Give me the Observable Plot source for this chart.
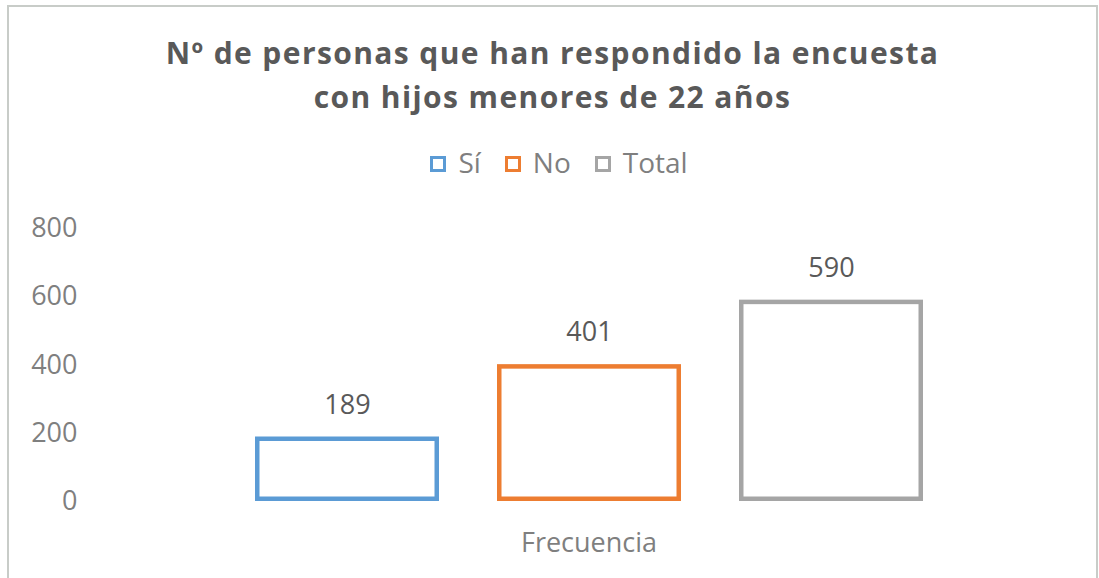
<!DOCTYPE html>
<html>
<head>
<meta charset="utf-8">
<script src="https://cdn.jsdelivr.net/npm/d3@7"></script>
<script src="https://cdn.jsdelivr.net/npm/@observablehq/plot@0.6"></script>
<style>
  html, body { margin: 0; padding: 0; background: #fff; }
  #wrap { position: relative; width: 1099px; height: 578px; overflow: hidden; font-family: "Open Sans", sans-serif; }
  #frame { position: absolute; left: 7px; top: 5px; width: 1087px; height: 640px; border: 2px solid #c8ccc8; }
  #title { position: absolute; left: 7px; width: 1091px; top: 31px; text-align: center; font-weight: 700; font-size: 30px; letter-spacing: 1.4px; line-height: 44px; color: #595959; }
  #legend { position: absolute; left: 0; width: 1099px; top: 147px; padding-left: 19px; box-sizing: border-box; display: flex; justify-content: center; align-items: center; font-size: 28px; line-height: 30px; color: #7f7f7f; }
  #legend .item { display: flex; align-items: center; margin: 0 12px; flex: none; }
  #legend .sw { display: block; flex: 0 0 16px; position: relative; top: 2px; width: 16px; height: 16px; box-sizing: border-box; border: 3.5px solid; margin-right: 12px; background: #fff; }
  #chart { position: absolute; left: 0; top: 200px; }
</style>
</head>
<body>
<div id="wrap">
  <div id="frame"></div>
  <div id="title"></div>
  <div id="legend"></div>
  <div id="chart"></div>
</div>
<script>
const titleLines = ["Nº de personas que han respondido la encuesta", "con hijos menores de 22 años"];
const categories = ["Sí", "No", "Total"];
const values = [189, 401, 590];
const yTicks = [0, 200, 400, 600, 800];
const groupLabel = "Frecuencia";

const palette = ["#5b9bd5", "#ed7d31", "#a5a5a5"];

const data = categories.map((c, i) => ({category: c, value: values[i]}));

// Title
const t = document.getElementById("title");
titleLines.forEach(line => {
  const d = document.createElement("div");
  d.textContent = line;
  t.appendChild(d);
});

// Legend (hollow swatches)
const lg = document.getElementById("legend");
categories.forEach((c, i) => {
  const it = document.createElement("div");
  it.className = "item";
  const sw = document.createElement("span");
  sw.className = "sw";
  sw.style.borderColor = palette[i];
  const tx = document.createElement("span");
  tx.textContent = c;
  it.appendChild(sw);
  it.appendChild(tx);
  lg.appendChild(it);
});

const sw = 4.5;
const chart = Plot.plot({
  width: 1099,
  height: 378,
  marginLeft: 80,
  marginRight: 2,
  marginTop: 0,
  marginBottom: 35,
  style: {fontFamily: "'Open Sans', sans-serif", color: "#7f7f7f", background: "transparent", overflow: "visible"},
  x: {type: "band", domain: categories, range: [255, 923], paddingInner: 0.24, paddingOuter: 0, axis: null},
  y: {domain: [0, 800], range: [301, 28], axis: null},
  color: {domain: categories, range: palette},
  marks: [
    Plot.axisY(yTicks, {tickSize: 0, tickPadding: 3, fontSize: 27, fill: "#7f7f7f", label: null}),
    Plot.barY(data, {x: "category", y: "value", stroke: "category", fill: "white", strokeWidth: sw, inset: sw / 2}),
    Plot.text(data, {x: "category", y: "value", text: d => String(d.value), dy: -32, fontSize: 27, fill: "#595959", lineAnchor: "middle"}),
    Plot.text([groupLabel], {frameAnchor: "bottom", text: d => d, fontSize: 27, fill: "#7f7f7f", lineAnchor: "middle"})
  ]
});
document.getElementById("chart").appendChild(chart);
</script>
</body>
</html>
